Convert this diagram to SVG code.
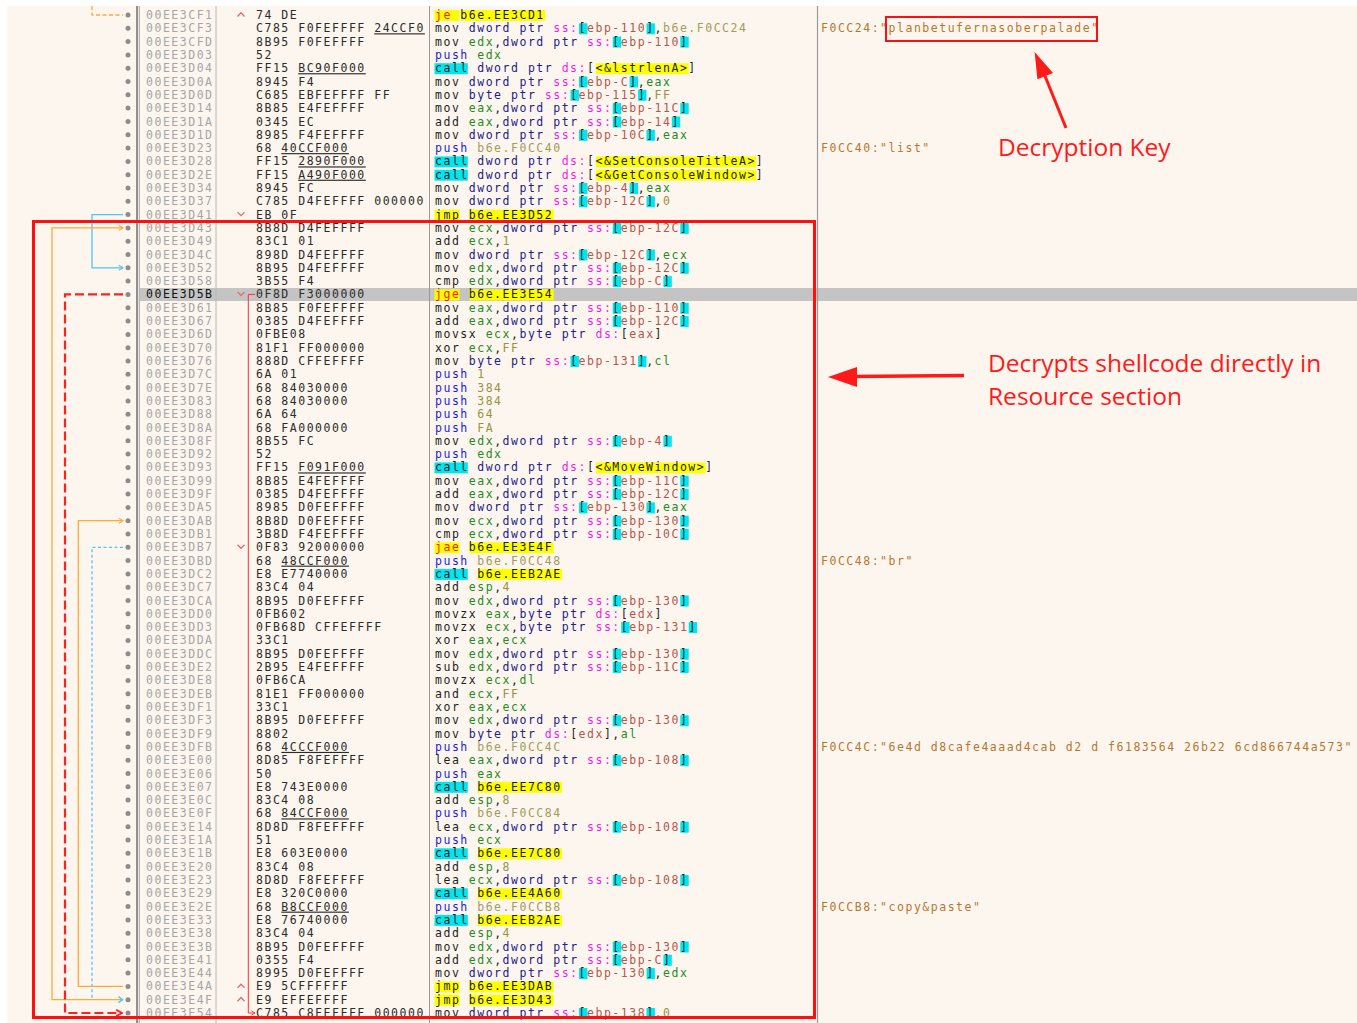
<svg xmlns="http://www.w3.org/2000/svg" width="1357" height="1023" viewBox="0 0 1357 1023">
<defs>
<style>
.t{font-family:"DejaVu Sans Mono","Liberation Mono",monospace;font-size:11.5px;letter-spacing:1.52px}
.a{fill:#a5a5a5}
.ah{fill:#111}
.b{fill:#2b2b2b}
.c{fill:#b7762f}
.i{fill:#1e1e1e}
.p{fill:#1c1cdc}
.s{fill:#20208a}
.g{fill:#258a25}
.e{fill:#f01cf0}
.m{fill:#b4564c}
.n{fill:#99913f}
.v{fill:#a29b5c}
.j{fill:#ff1a00}
.u{text-decoration:underline}
.y{fill:#ffff00}
.q{fill:#00e6ee}
.mk{fill:none;stroke:#e36a6a;stroke-width:1.3}
.note{font-family:"Open Sans","Noto Sans",sans-serif;font-size:24.5px;fill:#ff1a1a}
</style>
<circle id="dot" cx="128" cy="0" r="2.5" fill="#8c8c8c"/>
<rect id="bk" x="0" y="-5" width="8.4" height="11" fill="#00e6ee"/>
<path id="up" d="M237.5,1.5L241,-2.2L244.5,1.5" class="mk"/>
<path id="dn" d="M237.5,-2.5L241,1L244.5,-2.5" class="mk"/>
<marker id="ao" viewBox="0 0 10 10" refX="9" refY="5" markerWidth="7" markerHeight="7" markerUnits="userSpaceOnUse" orient="auto"><path d="M3,1.5L9,5L3,8.5" fill="none" stroke="#ffaa33" stroke-width="1.6"/></marker>
<marker id="ac" viewBox="0 0 10 10" refX="9" refY="5" markerWidth="7" markerHeight="7" markerUnits="userSpaceOnUse" orient="auto"><path d="M3,1.5L9,5L3,8.5" fill="none" stroke="#4fc3f7" stroke-width="1.6"/></marker>
<marker id="ar" viewBox="0 0 10 10" refX="9" refY="5" markerWidth="9" markerHeight="9" markerUnits="userSpaceOnUse" orient="auto"><path d="M2.5,1.5L9,5L2.5,8.5" fill="none" stroke="#ff2020" stroke-width="2"/></marker>
<marker id="ar2" viewBox="0 0 10 10" refX="9" refY="5" markerWidth="6" markerHeight="6" markerUnits="userSpaceOnUse" orient="auto"><path d="M3,1.5L9,5L3,8.5" fill="none" stroke="#ff3030" stroke-width="1.5"/></marker>
</defs>

<rect x="0" y="0" width="1357" height="1023" fill="#ffffff"/>
<rect x="7" y="6" width="1350" height="1017" fill="#fdf6ef"/>
<rect x="140" y="288" width="1217" height="13" fill="#c4c4c4"/>

<g id="columns" fill="none">
<line x1="137" y1="6" x2="137" y2="1023" stroke="#6e6e6e" stroke-width="1.5"/>
<line x1="139.3" y1="6" x2="139.3" y2="1023" stroke="#b5b5b5" stroke-width="1.3"/>
<line x1="216" y1="6" x2="216" y2="1023" stroke="#b8b8b8" stroke-width="1"/>
<line x1="429.5" y1="6" x2="429.5" y2="1023" stroke="#9a9a9a" stroke-width="1"/>
<line x1="817.5" y1="6" x2="817.5" y2="1023" stroke="#9a9a9a" stroke-width="1.2"/>
</g>

<g id="rows">
<g id="row00" transform="translate(0,15)"><use href="#dot"/><use href="#up"/><text class="t a" x="146" y="4">00EE3CF1</text><text class="t b" x="256" y="4">74 DE</text><rect class="y" x="434.5" y="-5" width="25" height="11"/><rect class="y" x="460.8" y="-5" width="84.4" height="11"/><text class="t i" x="435" y="4"><tspan class="j">je</tspan> b6e.EE3CD1</text></g>
<g id="row01" transform="translate(0,28.3)"><use href="#dot"/><text class="t a" x="146" y="4">00EE3CF3</text><text class="t b" x="256" y="4">C785 F0FEFFFF <tspan class="u">24CCF0</tspan></text><use href="#bk" x="579"/><use href="#bk" x="646.5"/><text class="t i" x="435" y="4">mov <tspan class="s">dword ptr </tspan><tspan class="e">ss:</tspan>[<tspan class="m">ebp-110</tspan>],<tspan class="v">b6e.F0CC24</tspan></text><text class="t c" x="821" y="4">F0CC24:"planbetufernasoberpalade"</text></g>
<g id="row02" transform="translate(0,41.6)"><use href="#dot"/><text class="t a" x="146" y="4">00EE3CFD</text><text class="t b" x="256" y="4">8B95 F0FEFFFF</text><use href="#bk" x="612.7"/><use href="#bk" x="680.3"/><text class="t i" x="435" y="4">mov <tspan class="g">edx</tspan>,<tspan class="s">dword ptr </tspan><tspan class="e">ss:</tspan>[<tspan class="m">ebp-110</tspan>]</text></g>
<g id="row03" transform="translate(0,54.9)"><use href="#dot"/><text class="t a" x="146" y="4">00EE3D03</text><text class="t b" x="256" y="4">52</text><text class="t i" x="435" y="4"><tspan class="p">push</tspan> <tspan class="g">edx</tspan></text></g>
<g id="row04" transform="translate(0,68.2)"><use href="#dot"/><text class="t a" x="146" y="4">00EE3D04</text><text class="t b" x="256" y="4">FF15 <tspan class="u">BC90F000</tspan></text><rect class="q" x="434.5" y="-5" width="33.3" height="11"/><rect class="y" x="595.9" y="-5" width="92.8" height="11"/><text class="t i" x="435" y="4">call <tspan class="s">dword ptr </tspan><tspan class="e">ds:</tspan>[&lt;&amp;lstrlenA&gt;]</text></g>
<g id="row05" transform="translate(0,81.5)"><use href="#dot"/><text class="t a" x="146" y="4">00EE3D0A</text><text class="t b" x="256" y="4">8945 F4</text><use href="#bk" x="579"/><use href="#bk" x="629.6"/><text class="t i" x="435" y="4">mov <tspan class="s">dword ptr </tspan><tspan class="e">ss:</tspan>[<tspan class="m">ebp-C</tspan>],<tspan class="g">eax</tspan></text></g>
<g id="row06" transform="translate(0,94.8)"><use href="#dot"/><text class="t a" x="146" y="4">00EE3D0D</text><text class="t b" x="256" y="4">C685 EBFEFFFF FF</text><use href="#bk" x="570.5"/><use href="#bk" x="638.1"/><text class="t i" x="435" y="4">mov <tspan class="s">byte ptr </tspan><tspan class="e">ss:</tspan>[<tspan class="m">ebp-115</tspan>],<tspan class="n">FF</tspan></text></g>
<g id="row07" transform="translate(0,108.1)"><use href="#dot"/><text class="t a" x="146" y="4">00EE3D14</text><text class="t b" x="256" y="4">8B85 E4FEFFFF</text><use href="#bk" x="612.7"/><use href="#bk" x="680.3"/><text class="t i" x="435" y="4">mov <tspan class="g">eax</tspan>,<tspan class="s">dword ptr </tspan><tspan class="e">ss:</tspan>[<tspan class="m">ebp-11C</tspan>]</text></g>
<g id="row08" transform="translate(0,121.5)"><use href="#dot"/><text class="t a" x="146" y="4">00EE3D1A</text><text class="t b" x="256" y="4">0345 EC</text><use href="#bk" x="612.7"/><use href="#bk" x="671.8"/><text class="t i" x="435" y="4">add <tspan class="g">eax</tspan>,<tspan class="s">dword ptr </tspan><tspan class="e">ss:</tspan>[<tspan class="m">ebp-14</tspan>]</text></g>
<g id="row09" transform="translate(0,134.8)"><use href="#dot"/><text class="t a" x="146" y="4">00EE3D1D</text><text class="t b" x="256" y="4">8985 F4FEFFFF</text><use href="#bk" x="579"/><use href="#bk" x="646.5"/><text class="t i" x="435" y="4">mov <tspan class="s">dword ptr </tspan><tspan class="e">ss:</tspan>[<tspan class="m">ebp-10C</tspan>],<tspan class="g">eax</tspan></text></g>
<g id="row10" transform="translate(0,148.1)"><use href="#dot"/><text class="t a" x="146" y="4">00EE3D23</text><text class="t b" x="256" y="4">68 <tspan class="u">40CCF000</tspan></text><text class="t i" x="435" y="4"><tspan class="p">push</tspan> <tspan class="v">b6e.F0CC40</tspan></text><text class="t c" x="821" y="4">F0CC40:"list"</text></g>
<g id="row11" transform="translate(0,161.4)"><use href="#dot"/><text class="t a" x="146" y="4">00EE3D28</text><text class="t b" x="256" y="4">FF15 <tspan class="u">2890F000</tspan></text><rect class="q" x="434.5" y="-5" width="33.3" height="11"/><rect class="y" x="595.9" y="-5" width="160.4" height="11"/><text class="t i" x="435" y="4">call <tspan class="s">dword ptr </tspan><tspan class="e">ds:</tspan>[&lt;&amp;SetConsoleTitleA&gt;]</text></g>
<g id="row12" transform="translate(0,174.7)"><use href="#dot"/><text class="t a" x="146" y="4">00EE3D2E</text><text class="t b" x="256" y="4">FF15 <tspan class="u">A490F000</tspan></text><rect class="q" x="434.5" y="-5" width="33.3" height="11"/><rect class="y" x="595.9" y="-5" width="160.4" height="11"/><text class="t i" x="435" y="4">call <tspan class="s">dword ptr </tspan><tspan class="e">ds:</tspan>[&lt;&amp;GetConsoleWindow&gt;]</text></g>
<g id="row13" transform="translate(0,188)"><use href="#dot"/><text class="t a" x="146" y="4">00EE3D34</text><text class="t b" x="256" y="4">8945 FC</text><use href="#bk" x="579"/><use href="#bk" x="629.6"/><text class="t i" x="435" y="4">mov <tspan class="s">dword ptr </tspan><tspan class="e">ss:</tspan>[<tspan class="m">ebp-4</tspan>],<tspan class="g">eax</tspan></text></g>
<g id="row14" transform="translate(0,201.3)"><use href="#dot"/><text class="t a" x="146" y="4">00EE3D37</text><text class="t b" x="256" y="4">C785 D4FEFFFF 000000</text><use href="#bk" x="579"/><use href="#bk" x="646.5"/><text class="t i" x="435" y="4">mov <tspan class="s">dword ptr </tspan><tspan class="e">ss:</tspan>[<tspan class="m">ebp-12C</tspan>],<tspan class="n">0</tspan></text></g>
<g id="row15" transform="translate(0,214.6)"><use href="#dot"/><use href="#dn"/><text class="t a" x="146" y="4">00EE3D41</text><text class="t b" x="256" y="4">EB 0F</text><rect class="y" x="434.5" y="-5" width="25" height="11"/><rect class="y" x="469.3" y="-5" width="84.4" height="11"/><text class="t i" x="435" y="4">jmp b6e.EE3D52</text></g>
<g id="row16" transform="translate(0,227.9)"><use href="#dot"/><text class="t a" x="146" y="4">00EE3D43</text><text class="t b" x="256" y="4">8B8D D4FEFFFF</text><use href="#bk" x="612.7"/><use href="#bk" x="680.3"/><text class="t i" x="435" y="4">mov <tspan class="g">ecx</tspan>,<tspan class="s">dword ptr </tspan><tspan class="e">ss:</tspan>[<tspan class="m">ebp-12C</tspan>]</text></g>
<g id="row17" transform="translate(0,241.2)"><use href="#dot"/><text class="t a" x="146" y="4">00EE3D49</text><text class="t b" x="256" y="4">83C1 01</text><text class="t i" x="435" y="4">add <tspan class="g">ecx</tspan>,<tspan class="n">1</tspan></text></g>
<g id="row18" transform="translate(0,254.5)"><use href="#dot"/><text class="t a" x="146" y="4">00EE3D4C</text><text class="t b" x="256" y="4">898D D4FEFFFF</text><use href="#bk" x="579"/><use href="#bk" x="646.5"/><text class="t i" x="435" y="4">mov <tspan class="s">dword ptr </tspan><tspan class="e">ss:</tspan>[<tspan class="m">ebp-12C</tspan>],<tspan class="g">ecx</tspan></text></g>
<g id="row19" transform="translate(0,267.8)"><use href="#dot"/><text class="t a" x="146" y="4">00EE3D52</text><text class="t b" x="256" y="4">8B95 D4FEFFFF</text><use href="#bk" x="612.7"/><use href="#bk" x="680.3"/><text class="t i" x="435" y="4">mov <tspan class="g">edx</tspan>,<tspan class="s">dword ptr </tspan><tspan class="e">ss:</tspan>[<tspan class="m">ebp-12C</tspan>]</text></g>
<g id="row20" transform="translate(0,281.1)"><use href="#dot"/><text class="t a" x="146" y="4">00EE3D58</text><text class="t b" x="256" y="4">3B55 F4</text><use href="#bk" x="612.7"/><use href="#bk" x="663.4"/><text class="t i" x="435" y="4">cmp <tspan class="g">edx</tspan>,<tspan class="s">dword ptr </tspan><tspan class="e">ss:</tspan>[<tspan class="m">ebp-C</tspan>]</text></g>
<g id="row21" transform="translate(0,294.4)"><use href="#dot"/><use href="#dn"/><text class="t ah" x="146" y="4">00EE3D5B</text><text class="t b" x="256" y="4">0F8D F3000000</text><rect class="y" x="434.5" y="-5" width="25" height="11"/><rect class="y" x="469.3" y="-5" width="84.4" height="11"/><text class="t i" x="435" y="4"><tspan class="j">jge</tspan> b6e.EE3E54</text></g>
<g id="row22" transform="translate(0,307.8)"><use href="#dot"/><text class="t a" x="146" y="4">00EE3D61</text><text class="t b" x="256" y="4">8B85 F0FEFFFF</text><use href="#bk" x="612.7"/><use href="#bk" x="680.3"/><text class="t i" x="435" y="4">mov <tspan class="g">eax</tspan>,<tspan class="s">dword ptr </tspan><tspan class="e">ss:</tspan>[<tspan class="m">ebp-110</tspan>]</text></g>
<g id="row23" transform="translate(0,321.1)"><use href="#dot"/><text class="t a" x="146" y="4">00EE3D67</text><text class="t b" x="256" y="4">0385 D4FEFFFF</text><use href="#bk" x="612.7"/><use href="#bk" x="680.3"/><text class="t i" x="435" y="4">add <tspan class="g">eax</tspan>,<tspan class="s">dword ptr </tspan><tspan class="e">ss:</tspan>[<tspan class="m">ebp-12C</tspan>]</text></g>
<g id="row24" transform="translate(0,334.4)"><use href="#dot"/><text class="t a" x="146" y="4">00EE3D6D</text><text class="t b" x="256" y="4">0FBE08</text><text class="t i" x="435" y="4">movsx <tspan class="g">ecx</tspan>,<tspan class="s">byte ptr </tspan><tspan class="e">ds:</tspan>[<tspan class="m">eax</tspan>]</text></g>
<g id="row25" transform="translate(0,347.7)"><use href="#dot"/><text class="t a" x="146" y="4">00EE3D70</text><text class="t b" x="256" y="4">81F1 FF000000</text><text class="t i" x="435" y="4">xor <tspan class="g">ecx</tspan>,<tspan class="n">FF</tspan></text></g>
<g id="row26" transform="translate(0,361)"><use href="#dot"/><text class="t a" x="146" y="4">00EE3D76</text><text class="t b" x="256" y="4">888D CFFEFFFF</text><use href="#bk" x="570.5"/><use href="#bk" x="638.1"/><text class="t i" x="435" y="4">mov <tspan class="s">byte ptr </tspan><tspan class="e">ss:</tspan>[<tspan class="m">ebp-131</tspan>],<tspan class="g">cl</tspan></text></g>
<g id="row27" transform="translate(0,374.3)"><use href="#dot"/><text class="t a" x="146" y="4">00EE3D7C</text><text class="t b" x="256" y="4">6A 01</text><text class="t i" x="435" y="4"><tspan class="p">push</tspan> <tspan class="n">1</tspan></text></g>
<g id="row28" transform="translate(0,387.6)"><use href="#dot"/><text class="t a" x="146" y="4">00EE3D7E</text><text class="t b" x="256" y="4">68 84030000</text><text class="t i" x="435" y="4"><tspan class="p">push</tspan> <tspan class="n">384</tspan></text></g>
<g id="row29" transform="translate(0,400.9)"><use href="#dot"/><text class="t a" x="146" y="4">00EE3D83</text><text class="t b" x="256" y="4">68 84030000</text><text class="t i" x="435" y="4"><tspan class="p">push</tspan> <tspan class="n">384</tspan></text></g>
<g id="row30" transform="translate(0,414.2)"><use href="#dot"/><text class="t a" x="146" y="4">00EE3D88</text><text class="t b" x="256" y="4">6A 64</text><text class="t i" x="435" y="4"><tspan class="p">push</tspan> <tspan class="n">64</tspan></text></g>
<g id="row31" transform="translate(0,427.5)"><use href="#dot"/><text class="t a" x="146" y="4">00EE3D8A</text><text class="t b" x="256" y="4">68 FA000000</text><text class="t i" x="435" y="4"><tspan class="p">push</tspan> <tspan class="n">FA</tspan></text></g>
<g id="row32" transform="translate(0,440.8)"><use href="#dot"/><text class="t a" x="146" y="4">00EE3D8F</text><text class="t b" x="256" y="4">8B55 FC</text><use href="#bk" x="612.7"/><use href="#bk" x="663.4"/><text class="t i" x="435" y="4">mov <tspan class="g">edx</tspan>,<tspan class="s">dword ptr </tspan><tspan class="e">ss:</tspan>[<tspan class="m">ebp-4</tspan>]</text></g>
<g id="row33" transform="translate(0,454.1)"><use href="#dot"/><text class="t a" x="146" y="4">00EE3D92</text><text class="t b" x="256" y="4">52</text><text class="t i" x="435" y="4"><tspan class="p">push</tspan> <tspan class="g">edx</tspan></text></g>
<g id="row34" transform="translate(0,467.4)"><use href="#dot"/><text class="t a" x="146" y="4">00EE3D93</text><text class="t b" x="256" y="4">FF15 <tspan class="u">F091F000</tspan></text><rect class="q" x="434.5" y="-5" width="33.3" height="11"/><rect class="y" x="595.9" y="-5" width="109.7" height="11"/><text class="t i" x="435" y="4">call <tspan class="s">dword ptr </tspan><tspan class="e">ds:</tspan>[&lt;&amp;MoveWindow&gt;]</text></g>
<g id="row35" transform="translate(0,480.7)"><use href="#dot"/><text class="t a" x="146" y="4">00EE3D99</text><text class="t b" x="256" y="4">8B85 E4FEFFFF</text><use href="#bk" x="612.7"/><use href="#bk" x="680.3"/><text class="t i" x="435" y="4">mov <tspan class="g">eax</tspan>,<tspan class="s">dword ptr </tspan><tspan class="e">ss:</tspan>[<tspan class="m">ebp-11C</tspan>]</text></g>
<g id="row36" transform="translate(0,494.1)"><use href="#dot"/><text class="t a" x="146" y="4">00EE3D9F</text><text class="t b" x="256" y="4">0385 D4FEFFFF</text><use href="#bk" x="612.7"/><use href="#bk" x="680.3"/><text class="t i" x="435" y="4">add <tspan class="g">eax</tspan>,<tspan class="s">dword ptr </tspan><tspan class="e">ss:</tspan>[<tspan class="m">ebp-12C</tspan>]</text></g>
<g id="row37" transform="translate(0,507.4)"><use href="#dot"/><text class="t a" x="146" y="4">00EE3DA5</text><text class="t b" x="256" y="4">8985 D0FEFFFF</text><use href="#bk" x="579"/><use href="#bk" x="646.5"/><text class="t i" x="435" y="4">mov <tspan class="s">dword ptr </tspan><tspan class="e">ss:</tspan>[<tspan class="m">ebp-130</tspan>],<tspan class="g">eax</tspan></text></g>
<g id="row38" transform="translate(0,520.7)"><use href="#dot"/><text class="t a" x="146" y="4">00EE3DAB</text><text class="t b" x="256" y="4">8B8D D0FEFFFF</text><use href="#bk" x="612.7"/><use href="#bk" x="680.3"/><text class="t i" x="435" y="4">mov <tspan class="g">ecx</tspan>,<tspan class="s">dword ptr </tspan><tspan class="e">ss:</tspan>[<tspan class="m">ebp-130</tspan>]</text></g>
<g id="row39" transform="translate(0,534)"><use href="#dot"/><text class="t a" x="146" y="4">00EE3DB1</text><text class="t b" x="256" y="4">3B8D F4FEFFFF</text><use href="#bk" x="612.7"/><use href="#bk" x="680.3"/><text class="t i" x="435" y="4">cmp <tspan class="g">ecx</tspan>,<tspan class="s">dword ptr </tspan><tspan class="e">ss:</tspan>[<tspan class="m">ebp-10C</tspan>]</text></g>
<g id="row40" transform="translate(0,547.3)"><use href="#dot"/><use href="#dn"/><text class="t a" x="146" y="4">00EE3DB7</text><text class="t b" x="256" y="4">0F83 92000000</text><rect class="y" x="434.5" y="-5" width="25" height="11"/><rect class="y" x="469.3" y="-5" width="84.4" height="11"/><text class="t i" x="435" y="4"><tspan class="j">jae</tspan> b6e.EE3E4F</text></g>
<g id="row41" transform="translate(0,560.6)"><use href="#dot"/><text class="t a" x="146" y="4">00EE3DBD</text><text class="t b" x="256" y="4">68 <tspan class="u">48CCF000</tspan></text><text class="t i" x="435" y="4"><tspan class="p">push</tspan> <tspan class="v">b6e.F0CC48</tspan></text><text class="t c" x="821" y="4">F0CC48:"br"</text></g>
<g id="row42" transform="translate(0,573.9)"><use href="#dot"/><text class="t a" x="146" y="4">00EE3DC2</text><text class="t b" x="256" y="4">E8 E7740000</text><rect class="q" x="434.5" y="-5" width="33.3" height="11"/><rect class="y" x="477.7" y="-5" width="84.4" height="11"/><text class="t i" x="435" y="4">call b6e.EEB2AE</text></g>
<g id="row43" transform="translate(0,587.2)"><use href="#dot"/><text class="t a" x="146" y="4">00EE3DC7</text><text class="t b" x="256" y="4">83C4 04</text><text class="t i" x="435" y="4">add <tspan class="g">esp</tspan>,<tspan class="n">4</tspan></text></g>
<g id="row44" transform="translate(0,600.5)"><use href="#dot"/><text class="t a" x="146" y="4">00EE3DCA</text><text class="t b" x="256" y="4">8B95 D0FEFFFF</text><use href="#bk" x="612.7"/><use href="#bk" x="680.3"/><text class="t i" x="435" y="4">mov <tspan class="g">edx</tspan>,<tspan class="s">dword ptr </tspan><tspan class="e">ss:</tspan>[<tspan class="m">ebp-130</tspan>]</text></g>
<g id="row45" transform="translate(0,613.8)"><use href="#dot"/><text class="t a" x="146" y="4">00EE3DD0</text><text class="t b" x="256" y="4">0FB602</text><text class="t i" x="435" y="4">movzx <tspan class="g">eax</tspan>,<tspan class="s">byte ptr </tspan><tspan class="e">ds:</tspan>[<tspan class="m">edx</tspan>]</text></g>
<g id="row46" transform="translate(0,627.1)"><use href="#dot"/><text class="t a" x="146" y="4">00EE3DD3</text><text class="t b" x="256" y="4">0FB68D CFFEFFFF</text><use href="#bk" x="621.2"/><use href="#bk" x="688.7"/><text class="t i" x="435" y="4">movzx <tspan class="g">ecx</tspan>,<tspan class="s">byte ptr </tspan><tspan class="e">ss:</tspan>[<tspan class="m">ebp-131</tspan>]</text></g>
<g id="row47" transform="translate(0,640.4)"><use href="#dot"/><text class="t a" x="146" y="4">00EE3DDA</text><text class="t b" x="256" y="4">33C1</text><text class="t i" x="435" y="4">xor <tspan class="g">eax</tspan>,<tspan class="g">ecx</tspan></text></g>
<g id="row48" transform="translate(0,653.7)"><use href="#dot"/><text class="t a" x="146" y="4">00EE3DDC</text><text class="t b" x="256" y="4">8B95 D0FEFFFF</text><use href="#bk" x="612.7"/><use href="#bk" x="680.3"/><text class="t i" x="435" y="4">mov <tspan class="g">edx</tspan>,<tspan class="s">dword ptr </tspan><tspan class="e">ss:</tspan>[<tspan class="m">ebp-130</tspan>]</text></g>
<g id="row49" transform="translate(0,667)"><use href="#dot"/><text class="t a" x="146" y="4">00EE3DE2</text><text class="t b" x="256" y="4">2B95 E4FEFFFF</text><use href="#bk" x="612.7"/><use href="#bk" x="680.3"/><text class="t i" x="435" y="4">sub <tspan class="g">edx</tspan>,<tspan class="s">dword ptr </tspan><tspan class="e">ss:</tspan>[<tspan class="m">ebp-11C</tspan>]</text></g>
<g id="row50" transform="translate(0,680.4)"><use href="#dot"/><text class="t a" x="146" y="4">00EE3DE8</text><text class="t b" x="256" y="4">0FB6CA</text><text class="t i" x="435" y="4">movzx <tspan class="g">ecx</tspan>,<tspan class="g">dl</tspan></text></g>
<g id="row51" transform="translate(0,693.7)"><use href="#dot"/><text class="t a" x="146" y="4">00EE3DEB</text><text class="t b" x="256" y="4">81E1 FF000000</text><text class="t i" x="435" y="4">and <tspan class="g">ecx</tspan>,<tspan class="n">FF</tspan></text></g>
<g id="row52" transform="translate(0,707)"><use href="#dot"/><text class="t a" x="146" y="4">00EE3DF1</text><text class="t b" x="256" y="4">33C1</text><text class="t i" x="435" y="4">xor <tspan class="g">eax</tspan>,<tspan class="g">ecx</tspan></text></g>
<g id="row53" transform="translate(0,720.3)"><use href="#dot"/><text class="t a" x="146" y="4">00EE3DF3</text><text class="t b" x="256" y="4">8B95 D0FEFFFF</text><use href="#bk" x="612.7"/><use href="#bk" x="680.3"/><text class="t i" x="435" y="4">mov <tspan class="g">edx</tspan>,<tspan class="s">dword ptr </tspan><tspan class="e">ss:</tspan>[<tspan class="m">ebp-130</tspan>]</text></g>
<g id="row54" transform="translate(0,733.6)"><use href="#dot"/><text class="t a" x="146" y="4">00EE3DF9</text><text class="t b" x="256" y="4">8802</text><text class="t i" x="435" y="4">mov <tspan class="s">byte ptr </tspan><tspan class="e">ds:</tspan>[<tspan class="m">edx</tspan>],<tspan class="g">al</tspan></text></g>
<g id="row55" transform="translate(0,746.9)"><use href="#dot"/><text class="t a" x="146" y="4">00EE3DFB</text><text class="t b" x="256" y="4">68 <tspan class="u">4CCCF000</tspan></text><text class="t i" x="435" y="4"><tspan class="p">push</tspan> <tspan class="v">b6e.F0CC4C</tspan></text><text class="t c" x="821" y="4">F0CC4C:"6e4d d8cafe4aaad4cab d2 d f6183564 26b22 6cd866744a573"</text></g>
<g id="row56" transform="translate(0,760.2)"><use href="#dot"/><text class="t a" x="146" y="4">00EE3E00</text><text class="t b" x="256" y="4">8D85 F8FEFFFF</text><use href="#bk" x="612.7"/><use href="#bk" x="680.3"/><text class="t i" x="435" y="4">lea <tspan class="g">eax</tspan>,<tspan class="s">dword ptr </tspan><tspan class="e">ss:</tspan>[<tspan class="m">ebp-108</tspan>]</text></g>
<g id="row57" transform="translate(0,773.5)"><use href="#dot"/><text class="t a" x="146" y="4">00EE3E06</text><text class="t b" x="256" y="4">50</text><text class="t i" x="435" y="4"><tspan class="p">push</tspan> <tspan class="g">eax</tspan></text></g>
<g id="row58" transform="translate(0,786.8)"><use href="#dot"/><text class="t a" x="146" y="4">00EE3E07</text><text class="t b" x="256" y="4">E8 743E0000</text><rect class="q" x="434.5" y="-5" width="33.3" height="11"/><rect class="y" x="477.7" y="-5" width="84.4" height="11"/><text class="t i" x="435" y="4">call b6e.EE7C80</text></g>
<g id="row59" transform="translate(0,800.1)"><use href="#dot"/><text class="t a" x="146" y="4">00EE3E0C</text><text class="t b" x="256" y="4">83C4 08</text><text class="t i" x="435" y="4">add <tspan class="g">esp</tspan>,<tspan class="n">8</tspan></text></g>
<g id="row60" transform="translate(0,813.4)"><use href="#dot"/><text class="t a" x="146" y="4">00EE3E0F</text><text class="t b" x="256" y="4">68 <tspan class="u">84CCF000</tspan></text><text class="t i" x="435" y="4"><tspan class="p">push</tspan> <tspan class="v">b6e.F0CC84</tspan></text></g>
<g id="row61" transform="translate(0,826.7)"><use href="#dot"/><text class="t a" x="146" y="4">00EE3E14</text><text class="t b" x="256" y="4">8D8D F8FEFFFF</text><use href="#bk" x="612.7"/><use href="#bk" x="680.3"/><text class="t i" x="435" y="4">lea <tspan class="g">ecx</tspan>,<tspan class="s">dword ptr </tspan><tspan class="e">ss:</tspan>[<tspan class="m">ebp-108</tspan>]</text></g>
<g id="row62" transform="translate(0,840)"><use href="#dot"/><text class="t a" x="146" y="4">00EE3E1A</text><text class="t b" x="256" y="4">51</text><text class="t i" x="435" y="4"><tspan class="p">push</tspan> <tspan class="g">ecx</tspan></text></g>
<g id="row63" transform="translate(0,853.3)"><use href="#dot"/><text class="t a" x="146" y="4">00EE3E1B</text><text class="t b" x="256" y="4">E8 603E0000</text><rect class="q" x="434.5" y="-5" width="33.3" height="11"/><rect class="y" x="477.7" y="-5" width="84.4" height="11"/><text class="t i" x="435" y="4">call b6e.EE7C80</text></g>
<g id="row64" transform="translate(0,866.6)"><use href="#dot"/><text class="t a" x="146" y="4">00EE3E20</text><text class="t b" x="256" y="4">83C4 08</text><text class="t i" x="435" y="4">add <tspan class="g">esp</tspan>,<tspan class="n">8</tspan></text></g>
<g id="row65" transform="translate(0,880)"><use href="#dot"/><text class="t a" x="146" y="4">00EE3E23</text><text class="t b" x="256" y="4">8D8D F8FEFFFF</text><use href="#bk" x="612.7"/><use href="#bk" x="680.3"/><text class="t i" x="435" y="4">lea <tspan class="g">ecx</tspan>,<tspan class="s">dword ptr </tspan><tspan class="e">ss:</tspan>[<tspan class="m">ebp-108</tspan>]</text></g>
<g id="row66" transform="translate(0,893.3)"><use href="#dot"/><text class="t a" x="146" y="4">00EE3E29</text><text class="t b" x="256" y="4">E8 320C0000</text><rect class="q" x="434.5" y="-5" width="33.3" height="11"/><rect class="y" x="477.7" y="-5" width="84.4" height="11"/><text class="t i" x="435" y="4">call b6e.EE4A60</text></g>
<g id="row67" transform="translate(0,906.6)"><use href="#dot"/><text class="t a" x="146" y="4">00EE3E2E</text><text class="t b" x="256" y="4">68 <tspan class="u">B8CCF000</tspan></text><text class="t i" x="435" y="4"><tspan class="p">push</tspan> <tspan class="v">b6e.F0CCB8</tspan></text><text class="t c" x="821" y="4">F0CCB8:"copy&amp;paste"</text></g>
<g id="row68" transform="translate(0,919.9)"><use href="#dot"/><text class="t a" x="146" y="4">00EE3E33</text><text class="t b" x="256" y="4">E8 76740000</text><rect class="q" x="434.5" y="-5" width="33.3" height="11"/><rect class="y" x="477.7" y="-5" width="84.4" height="11"/><text class="t i" x="435" y="4">call b6e.EEB2AE</text></g>
<g id="row69" transform="translate(0,933.2)"><use href="#dot"/><text class="t a" x="146" y="4">00EE3E38</text><text class="t b" x="256" y="4">83C4 04</text><text class="t i" x="435" y="4">add <tspan class="g">esp</tspan>,<tspan class="n">4</tspan></text></g>
<g id="row70" transform="translate(0,946.5)"><use href="#dot"/><text class="t a" x="146" y="4">00EE3E3B</text><text class="t b" x="256" y="4">8B95 D0FEFFFF</text><use href="#bk" x="612.7"/><use href="#bk" x="680.3"/><text class="t i" x="435" y="4">mov <tspan class="g">edx</tspan>,<tspan class="s">dword ptr </tspan><tspan class="e">ss:</tspan>[<tspan class="m">ebp-130</tspan>]</text></g>
<g id="row71" transform="translate(0,959.8)"><use href="#dot"/><text class="t a" x="146" y="4">00EE3E41</text><text class="t b" x="256" y="4">0355 F4</text><use href="#bk" x="612.7"/><use href="#bk" x="663.4"/><text class="t i" x="435" y="4">add <tspan class="g">edx</tspan>,<tspan class="s">dword ptr </tspan><tspan class="e">ss:</tspan>[<tspan class="m">ebp-C</tspan>]</text></g>
<g id="row72" transform="translate(0,973.1)"><use href="#dot"/><text class="t a" x="146" y="4">00EE3E44</text><text class="t b" x="256" y="4">8995 D0FEFFFF</text><use href="#bk" x="579"/><use href="#bk" x="646.5"/><text class="t i" x="435" y="4">mov <tspan class="s">dword ptr </tspan><tspan class="e">ss:</tspan>[<tspan class="m">ebp-130</tspan>],<tspan class="g">edx</tspan></text></g>
<g id="row73" transform="translate(0,986.4)"><use href="#dot"/><use href="#up"/><text class="t a" x="146" y="4">00EE3E4A</text><text class="t b" x="256" y="4">E9 5CFFFFFF</text><rect class="y" x="434.5" y="-5" width="25" height="11"/><rect class="y" x="469.3" y="-5" width="84.4" height="11"/><text class="t i" x="435" y="4">jmp b6e.EE3DAB</text></g>
<g id="row74" transform="translate(0,999.7)"><use href="#dot"/><use href="#up"/><text class="t a" x="146" y="4">00EE3E4F</text><text class="t b" x="256" y="4">E9 EFFEFFFF</text><rect class="y" x="434.5" y="-5" width="25" height="11"/><rect class="y" x="469.3" y="-5" width="84.4" height="11"/><text class="t i" x="435" y="4">jmp b6e.EE3D43</text></g>
<g id="row75" transform="translate(0,1013)"><use href="#dot"/><text class="t a" x="146" y="4">00EE3E54</text><text class="t b" x="256" y="4">C785 C8FEFFFF 000000</text><use href="#bk" x="579"/><use href="#bk" x="646.5"/><text class="t i" x="435" y="4">mov <tspan class="s">dword ptr </tspan><tspan class="e">ss:</tspan>[<tspan class="m">ebp-138</tspan>],<tspan class="n">0</tspan></text></g>
</g>

<g id="connectors" fill="none">
<path d="M92,6V15H123" stroke="#ffaa33" stroke-width="1.3" stroke-dasharray="4 2.5"/>
<path d="M123,214.6H92V267.8H123" stroke="#4fc3f7" stroke-width="1.3" marker-end="url(#ac)"/>
<path d="M123,547.3H92V999.7" stroke="#4fc3f7" stroke-width="1.3" stroke-dasharray="3 2.5"/>
<path d="M123,999.7H52V227.9H123" stroke="#ffaa33" stroke-width="1.3" marker-end="url(#ao)"/>
<path d="M123,986.4H78.3V520.7H123" stroke="#ffaa33" stroke-width="1.3" marker-end="url(#ao)"/>
<path d="M118.5,996.7L122.5,999.7L118.5,1002.7" stroke="#4fc3f7" stroke-width="1.5"/>
<path d="M123,294.4H65V1013H122" stroke="#ff2020" stroke-width="2.2" stroke-dasharray="9 4" marker-end="url(#ar)"/>
<path d="M255,294.4H248.3V1013H255" stroke="#ff3030" stroke-width="1" marker-end="url(#ar2)"/>
</g>

<g id="highlight-box">
<rect x="33.5" y="221.5" width="781" height="796" fill="none" stroke="#ff1010" stroke-width="3"/>
<rect x="886" y="17" width="211" height="24" fill="none" stroke="#ff1010" stroke-width="2"/>
</g>

<g id="annotations">
<line x1="1066" y1="128" x2="1045" y2="76" stroke="#ff1a1a" stroke-width="3"/>
<polygon points="1034.6,52 1037.4,79.2 1053,73" fill="#ff1a1a"/>
<text class="note" x="998" y="156">Decryption Key</text>
<line x1="964" y1="375.5" x2="852" y2="376.5" stroke="#ff1a1a" stroke-width="3.5"/>
<polygon points="828,377 857,367 857,387" fill="#ff1a1a"/>
<text class="note" x="988" y="372">Decrypts shellcode directly in</text>
<text class="note" x="988" y="405">Resource section</text>
</g>
</svg>
